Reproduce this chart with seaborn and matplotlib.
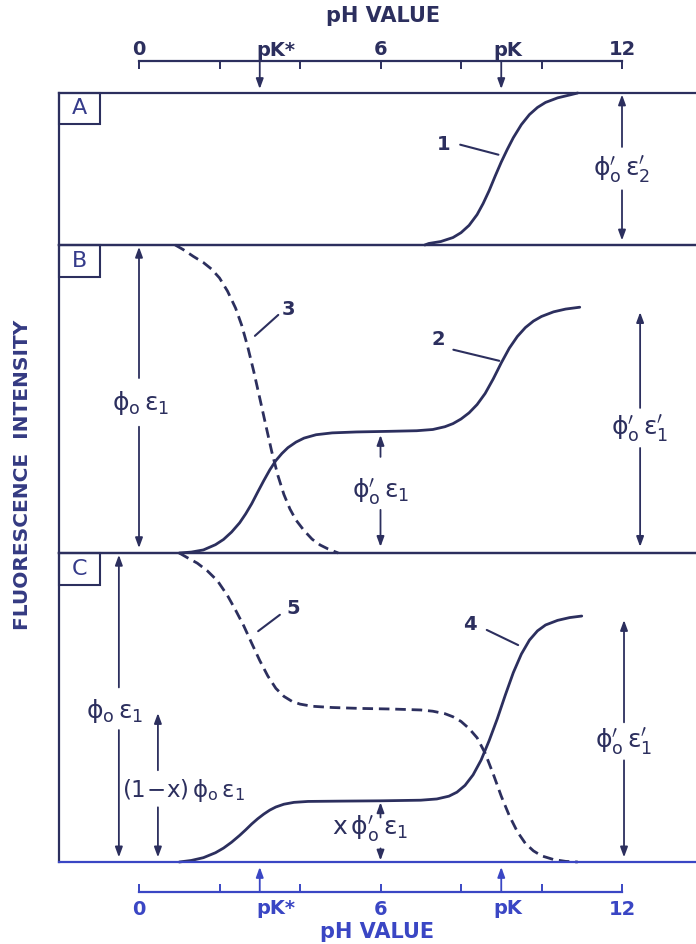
import matplotlib
matplotlib.use("Agg")
import matplotlib.pyplot as plt
import numpy as np
import pandas as pd
import seaborn as sns
from matplotlib.patches import Rectangle
from matplotlib.transforms import blended_transform_factory

# ---- curve values (pH, relative fluorescence within each panel, 0 = baseline, 1 = panel top) ----
c1_ph = [7.1, 7.2, 7.5, 7.8, 8.0, 8.2, 8.4, 8.55, 8.7, 8.85, 9.0, 9.15, 9.3, 9.5, 9.7, 9.9, 10.1, 10.4, 10.7, 10.9]
c1_val = [0.0, 0.01, 0.023, 0.049, 0.081, 0.129, 0.20, 0.273, 0.358, 0.454, 0.546, 0.629, 0.706, 0.792,
          0.858, 0.905, 0.938, 0.968, 0.987, 1.0]

c2_ph = [1.0, 1.3, 1.6, 1.9, 2.1, 2.3, 2.5, 2.65, 2.8, 2.95, 3.1, 3.25, 3.4, 3.55, 3.7, 3.9, 4.1, 4.4,
         4.8, 5.4, 6.2, 6.9, 7.3, 7.6, 7.8, 8.0, 8.2, 8.4, 8.6, 8.8, 9.0, 9.2, 9.4, 9.6, 9.8, 10.0,
         10.3, 10.6, 10.95]
c2_val = [0.0, 0.003, 0.01, 0.027, 0.044, 0.068, 0.098, 0.127, 0.16, 0.198, 0.235, 0.27, 0.30, 0.323,
          0.342, 0.36, 0.373, 0.384, 0.39, 0.393, 0.395, 0.397, 0.401, 0.41, 0.42, 0.435, 0.455, 0.482,
          0.518, 0.565, 0.617, 0.665, 0.703, 0.732, 0.753, 0.768, 0.783, 0.792, 0.798]

c3_ph = [0.9, 1.1, 1.35, 1.6, 1.8, 2.0, 2.2, 2.4, 2.55, 2.7, 2.85, 3.0, 3.15, 3.3, 3.45, 3.6, 3.75,
         3.9, 4.1, 4.3, 4.5, 4.7, 4.95]
c3_val = [1.0, 0.985, 0.963, 0.943, 0.922, 0.893, 0.85, 0.795, 0.74, 0.67, 0.59, 0.503, 0.415, 0.328,
          0.252, 0.19, 0.143, 0.107, 0.073, 0.045, 0.026, 0.013, 0.0]

c4_ph = [1.0, 1.3, 1.6, 1.9, 2.1, 2.3, 2.5, 2.65, 2.8, 2.95, 3.1, 3.25, 3.4, 3.6, 3.85, 4.2, 5.0,
         6.0, 7.0, 7.4, 7.7, 7.9, 8.1, 8.3, 8.5, 8.7, 8.9, 9.1, 9.3, 9.5, 9.7, 9.9, 10.1, 10.4,
         10.7, 11.0]
c4_val = [0.0, 0.005, 0.014, 0.03, 0.045, 0.064, 0.086, 0.104, 0.123, 0.14, 0.155, 0.168, 0.178, 0.187,
          0.193, 0.196, 0.197, 0.198, 0.20, 0.204, 0.213, 0.226, 0.248, 0.282, 0.33, 0.393, 0.463,
          0.54, 0.613, 0.673, 0.718, 0.748, 0.767, 0.782, 0.791, 0.796]

c5_ph = [1.0, 1.2, 1.45, 1.7, 1.95, 2.2, 2.4, 2.6, 2.8, 3.0, 3.2, 3.4, 3.6, 3.8, 4.0, 4.3, 4.8, 5.5,
         6.3, 7.0, 7.3, 7.6, 7.8, 8.0, 8.2, 8.4, 8.6, 8.8, 9.0, 9.2, 9.4, 9.6, 9.8, 10.0, 10.3,
         10.6, 10.9]
c5_val = [1.0, 0.985, 0.967, 0.942, 0.91, 0.862, 0.815, 0.765, 0.708, 0.652, 0.602, 0.562, 0.536, 0.52,
          0.511, 0.504, 0.50, 0.497, 0.495, 0.492, 0.488, 0.48, 0.47, 0.455, 0.432, 0.402, 0.352,
          0.285, 0.213, 0.15, 0.098, 0.06, 0.036, 0.02, 0.008, 0.002, 0.0]

# pH scale
scale_ticks = [0, 2, 4, 6, 8, 10, 12]
scale_labels = ["0", "6", "12"]
scale_label_pos = [0, 6, 12]
pK_star = 3
pK = 9

INK = "#2c2f5e"
BLUE = "#3a46c4"

sns.set_theme(style="white")
plt.rcParams["font.family"] = ["DejaVu Sans"]
plt.rcParams["mathtext.fontset"] = "dejavusans"

W, H = 696, 944
fig = plt.figure(figsize=(W / 100, H / 100), dpi=100)
fig.patch.set_facecolor("white")


def fx(px):
    return px / W


def fy(py):
    return 1 - py / H


XL, XR = 59, 696
X0PX, PXPH = 139, 40.25
XLIM = ((XL - X0PX) / PXPH, (XR - X0PX) / PXPH)


def panel(top, bottom, bottom_color=INK):
    ax = fig.add_axes([fx(XL), fy(bottom), fx(XR) - fx(XL), (bottom - top) / H])
    ax.set_facecolor("none")
    for s in ["left", "top", "bottom"]:
        ax.spines[s].set_color(INK)
        ax.spines[s].set_linewidth(1.6)
    ax.spines["bottom"].set_color(bottom_color)
    ax.spines["right"].set_visible(False)
    return ax


def finish(ax):
    ax.set_xlim(*XLIM)
    ax.set_ylim(0, 1)
    ax.set_xticks([])
    ax.set_yticks([])
    ax.set_xlabel("")
    ax.set_ylabel("")


def draw_curve(ax, ph, val, dashed=False):
    df = pd.DataFrame({"pH": ph, "I": val})
    kws = dict(color=INK, lw=2.0, clip_on=False, solid_capstyle="round", solid_joinstyle="round")
    if dashed:
        kws.update(linestyle=(0, (3.8, 2.1)))
    sns.lineplot(data=df, x="pH", y="I", ax=ax, sort=False, estimator=None, **kws)


ARROW = dict(arrowstyle="-|>,head_length=0.6,head_width=0.22", color=INK, lw=1.3,
             mutation_scale=10, shrinkA=0, shrinkB=0)


def span_arrow(ax, x, lo, hi, gap_lo, gap_hi, label, ty, tx=None, size=18, color=INK):
    kw = dict(ARROW, color=color)
    ax.annotate("", xy=(x, hi), xytext=(x, gap_hi), arrowprops=kw, annotation_clip=False)
    ax.annotate("", xy=(x, lo), xytext=(x, gap_lo), arrowprops=kw, annotation_clip=False)
    ax.text(x if tx is None else tx, ty, label, ha="center", va="center", fontsize=size, color=color)


def curve_label(ax, num, tx, ty, p0, p1):
    ax.text(tx, ty, num, ha="center", va="center", fontsize=14, fontweight="bold", color=INK)
    ax.annotate("", xy=p1, xytext=p0,
                arrowprops=dict(arrowstyle="-", color=INK, lw=1.5, shrinkA=0, shrinkB=0))


def panel_tag(ax, letter, h_frac):
    w = 41 / (XR - XL)
    ax.add_patch(Rectangle((0, 1 - h_frac), w, h_frac, transform=ax.transAxes,
                           fill=False, ec=INK, lw=1.5, clip_on=False))
    ax.text(w / 2, 1 - h_frac / 2, letter, transform=ax.transAxes, ha="center", va="center",
            fontsize=16, color="#353b8a")


PHI_P = r"\mathrm{\phi}^{\prime}_{\mathrm{o}}"
PHI = r"\mathrm{\phi}_{\mathrm{o}}"
EPS = r"\mathrm{\varepsilon}"
EPS_P = r"\mathrm{\varepsilon}^{\prime}"

# ---------------- panel A ----------------
axA = panel(93, 245)
draw_curve(axA, c1_ph, c1_val)
finish(axA)
panel_tag(axA, "A", 31 / 152)
span_arrow(axA, 12.0, 0.03, 0.99, 0.36, 0.645,
           rf"${PHI_P}\,{EPS_P}_{{\mathrm{{2}}}}$", 0.49)
curve_label(axA, "1", 7.58, 0.66, (7.98, 0.66), (8.93, 0.594))

# ---------------- panel B ----------------
axB = panel(245, 553)
draw_curve(axB, c3_ph, c3_val, dashed=True)
draw_curve(axB, c2_ph, c2_val)
finish(axB)
panel_tag(axB, "B", 32 / 308)
span_arrow(axB, 0.0, 0.016, 0.994, 0.41, 0.568,
           rf"${PHI}\,{EPS}_{{\mathrm{{1}}}}$", 0.487, tx=0.05)
span_arrow(axB, 6.0, 0.02, 0.383, 0.14, 0.312,
           rf"${PHI_P}\,{EPS}_{{\mathrm{{1}}}}$", 0.2)
span_arrow(axB, 12.45, 0.02, 0.782, 0.341, 0.471,
           rf"${PHI_P}\,{EPS_P}_{{\mathrm{{1}}}}$", 0.40)
curve_label(axB, "3", 3.71, 0.789, (2.88, 0.705), (3.46, 0.773))
curve_label(axB, "2", 7.44, 0.692, (7.81, 0.66), (8.95, 0.624))

# ---------------- panel C ----------------
axC = panel(553, 862, bottom_color=BLUE)
draw_curve(axC, c5_ph, c5_val, dashed=True)
draw_curve(axC, c4_ph, c4_val)
finish(axC)
panel_tag(axC, "C", 32 / 309)
span_arrow(axC, -0.5, 0.015, 0.994, 0.427, 0.565,
           rf"${PHI}\,{EPS}_{{\mathrm{{1}}}}$", 0.49, tx=-0.6)
span_arrow(axC, 0.47, 0.015, 0.482, 0.177, 0.297,
           rf"$(\mathrm{{1}}\!-\!\mathrm{{x}})\,{PHI}\,{EPS}_{{\mathrm{{1}}}}$", 0.232, tx=1.1, size=16.5)
span_arrow(axC, 6.0, 0.005, 0.193, 0.044, 0.144,
           rf"$\mathrm{{x}}\,{PHI_P}\,{EPS}_{{\mathrm{{1}}}}$", 0.109, tx=5.74)
span_arrow(axC, 12.05, 0.015, 0.783, 0.329, 0.452,
           rf"${PHI_P}\,{EPS_P}_{{\mathrm{{1}}}}$", 0.387)
curve_label(axC, "5", 3.83, 0.822, (2.96, 0.747), (3.50, 0.80))
curve_label(axC, "4", 8.22, 0.767, (8.64, 0.751), (9.42, 0.702))


# ---------------- pH scales ----------------
def scale_axis(y_px, where, color, label_pad):
    ax = fig.add_axes([fx(XL), fy(y_px), fx(XR) - fx(XL), 0.0004])
    ax.set_facecolor("none")
    ax.set_xlim(*XLIM)
    ax.set_yticks([])
    for s in ax.spines.values():
        s.set_visible(False)
    sp = ax.spines[where]
    sp.set_visible(True)
    sp.set_color(color)
    sp.set_linewidth(1.6)
    sp.set_bounds(0, 12)
    top = where == "top"
    ax.xaxis.remove_overlapping_locs = False
    ax.set_xticks(scale_ticks)
    ax.set_xticks(scale_label_pos, minor=True)
    ax.set_xticklabels(scale_labels, minor=True)
    ax.tick_params(axis="x", which="major", top=top, bottom=not top, labeltop=False,
                   labelbottom=False, direction="in", length=5.5, width=1.4, color=color)
    ax.tick_params(axis="x", which="minor", top=top, bottom=not top, labeltop=top,
                   labelbottom=not top, length=0, pad=label_pad, labelsize=14, labelcolor=color)
    for lbl in ax.get_xticklabels(minor=True):
        lbl.set_fontweight("bold")
    return ax


axT = scale_axis(61, "top", INK, 1)
axBt = scale_axis(892, "bottom", BLUE, 6)

# pK markers: arrows from the scales toward the panels, with their names
for ph, name, dx in [(pK_star, "pK*", -0.08), (pK, "pK", -0.2)]:
    axT.annotate("", xy=(ph, fy(89)), xycoords=("data", "figure fraction"),
                 xytext=(ph, fy(61)), textcoords=("data", "figure fraction"),
                 arrowprops=dict(ARROW, color=INK))
    axBt.annotate("", xy=(ph, fy(867)), xycoords=("data", "figure fraction"),
                  xytext=(ph, fy(892)), textcoords=("data", "figure fraction"),
                  arrowprops=dict(ARROW, color=BLUE))
    axT.text(ph + dx, fy(50), name, transform=blended_transform_factory(axT.transData, fig.transFigure),
             ha="left", va="center", fontsize=14, fontweight="bold", color=INK)
    axBt.text(ph + dx, fy(909), name, transform=blended_transform_factory(axBt.transData, fig.transFigure),
              ha="left", va="center", fontsize=14, fontweight="bold", color=BLUE)

fig.text(fx(383), fy(16), "pH VALUE", ha="center", va="center", fontsize=15, fontweight="bold", color=INK)
fig.text(fx(377), fy(932), "pH VALUE", ha="center", va="center", fontsize=15, fontweight="bold", color=BLUE)
fig.text(fx(23), fy(475), "FLUORESCENCE  INTENSITY", rotation=90, ha="center", va="center",
         fontsize=14.5, fontweight="bold", color="#343a82")

fig.savefig("out.png", dpi=100, facecolor="white")
